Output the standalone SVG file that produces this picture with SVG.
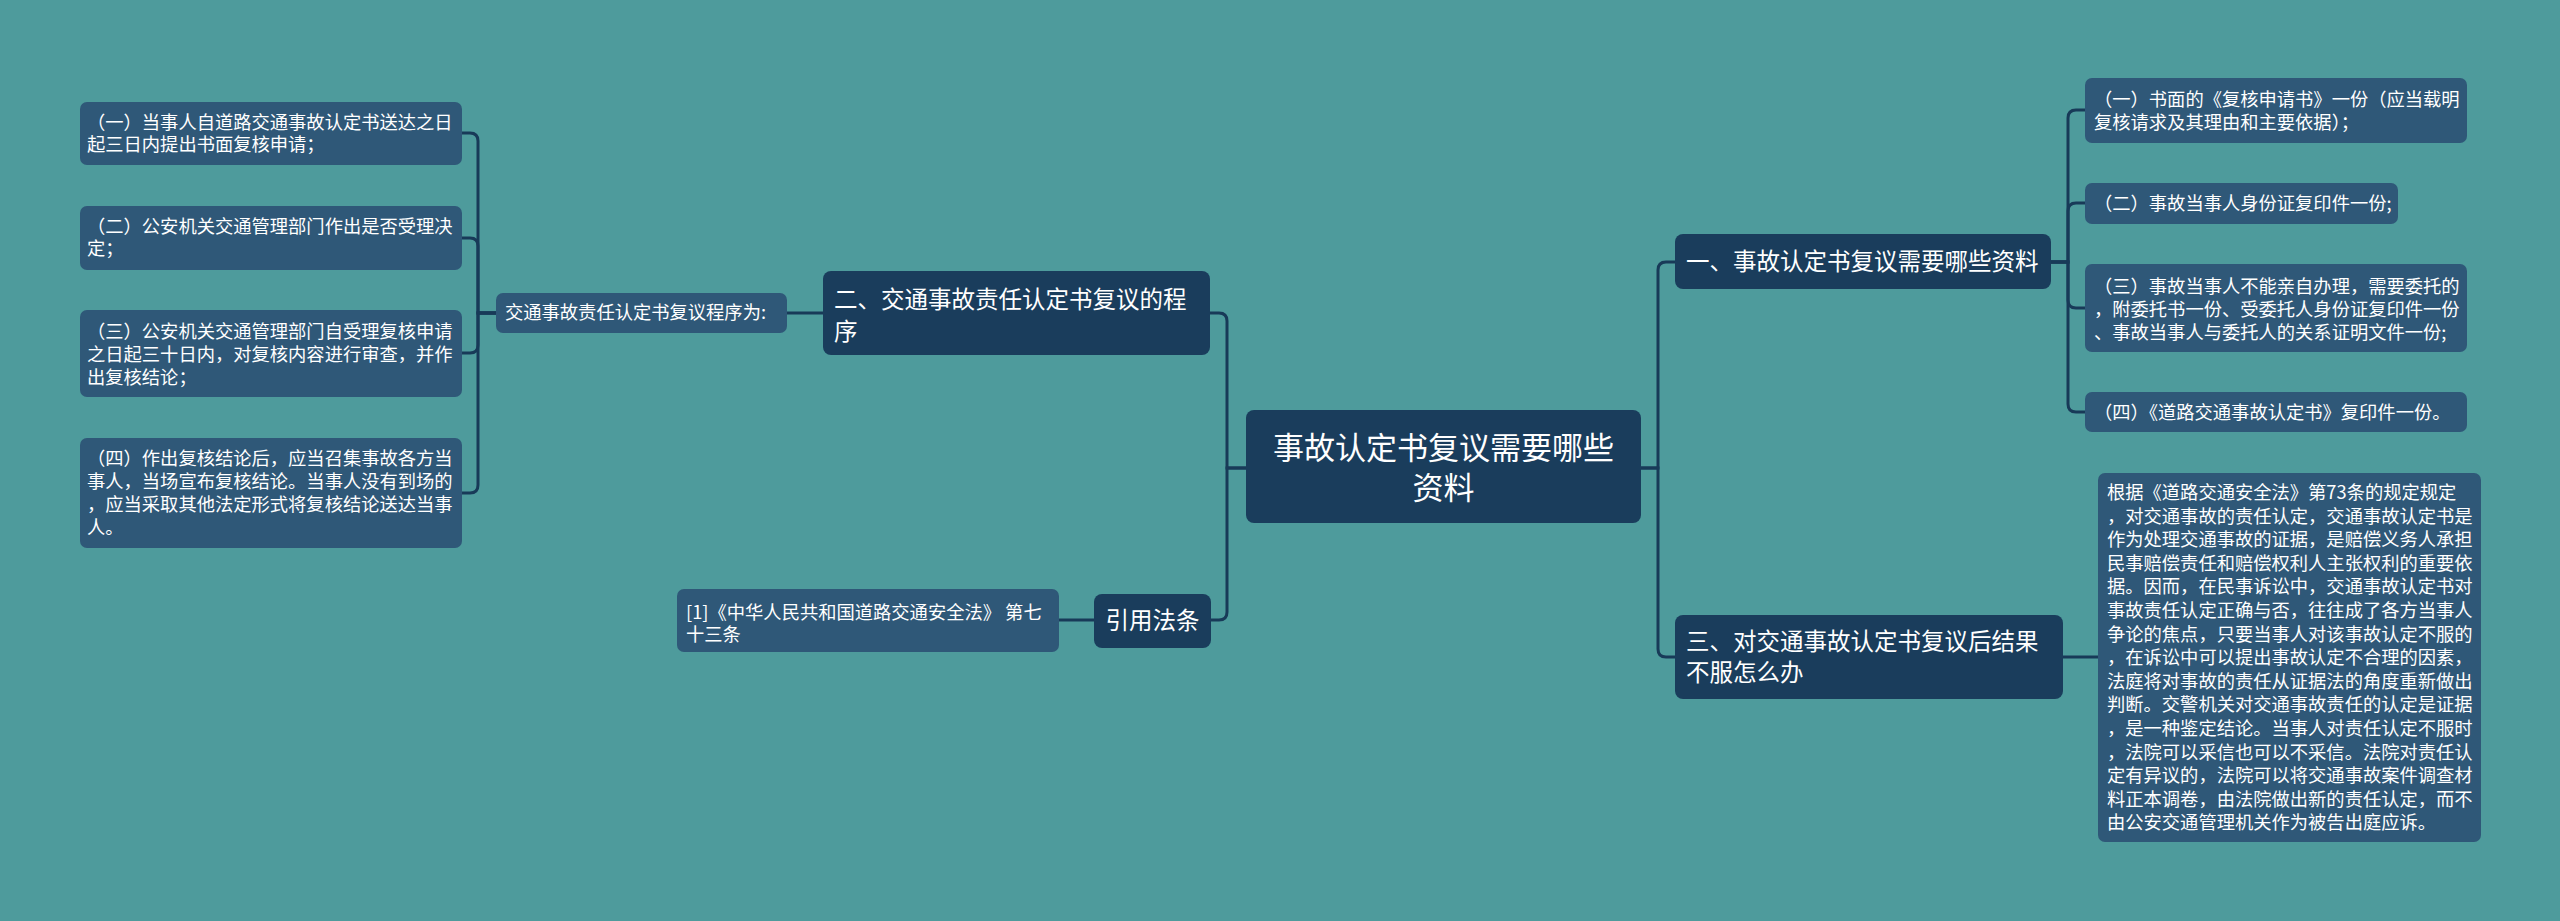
<svg xmlns="http://www.w3.org/2000/svg" width="2560" height="921" viewBox="0 0 2560 921">
<style>
.bg{fill:#4E9B9C}
.dark{fill:#1A3D5C}
.light{fill:#2F5878}
.conn path{fill:none;stroke:#183A58;stroke-width:3}
text{font-family:"Noto Sans CJK SC","Noto Sans",sans-serif;fill:#FFFFFF}
.s18{font-size:18.3px}
.s23{font-size:23.5px}
.s31{font-size:31px}
</style>
<rect class="bg" x="0" y="0" width="2560" height="921"/>
<g class="conn" id="connectors">
<path d="M1246,468 H1227 V321 Q1227,313 1219,313 H1210"/>
<path d="M1246,468 H1227 V612 Q1227,620 1219,620 H1210"/>
<path d="M823,313 H787"/>
<path d="M496,313 H478 V141 Q478,133 470,133 H462"/>
<path d="M496,313 H478 V246 Q478,238 470,238 H462"/>
<path d="M496,313 H478 V345 Q478,353 470,353 H462"/>
<path d="M496,313 H478 V485 Q478,493 470,493 H462"/>
<path d="M1094,620 H1059"/>
<path d="M1641,468 H1658 V270 Q1658,262 1666,262 H1675"/>
<path d="M1641,468 H1658 V649 Q1658,657 1666,657 H1675"/>
<path d="M2051,262 H2068 V118 Q2068,110 2076,110 H2085"/>
<path d="M2051,262 H2068 V211 Q2068,203 2076,203 H2085"/>
<path d="M2051,262 H2068 V300 Q2068,308 2076,308 H2085"/>
<path d="M2051,262 H2068 V404 Q2068,412 2076,412 H2085"/>
<path d="M2063,657 H2098"/>
</g>
<g id="center">
<rect class="dark" x="1246" y="410" width="395" height="113" rx="8"/>
<text class="s31" x="1443.5" y="459" text-anchor="middle">事故认定书复议需要哪些</text>
<text class="s31" x="1443.5" y="499" text-anchor="middle">资料</text>
</g>
<g id="n2">
<rect class="dark" x="823" y="271" width="387" height="84" rx="8"/>
<text class="s23" x="834" y="308">二、交通事故责任认定书复议的程</text>
<text class="s23" x="834" y="340">序</text>
</g>
<g id="n2a">
<rect class="light" x="496" y="293" width="291" height="40" rx="7"/>
<text class="s18" x="505" y="319">交通事故责任认定书复议程序为:</text>
</g>
<g id="n2a1">
<rect class="light" x="80" y="102" width="382" height="63" rx="7"/>
<text class="s18" x="87" y="129">（一）当事人自道路交通事故认定书送达之日</text>
<text class="s18" x="87" y="151">起三日内提出书面复核申请；</text>
</g>
<g id="n2a2">
<rect class="light" x="80" y="206" width="382" height="64" rx="7"/>
<text class="s18" x="87" y="233">（二）公安机关交通管理部门作出是否受理决</text>
<text class="s18" x="87" y="255">定；</text>
</g>
<g id="n2a3">
<rect class="light" x="80" y="310" width="382" height="87" rx="7"/>
<text class="s18" x="87" y="338">（三）公安机关交通管理部门自受理复核申请</text>
<text class="s18" x="87" y="361">之日起三十日内，对复核内容进行审查，并作</text>
<text class="s18" x="87" y="384">出复核结论；</text>
</g>
<g id="n2a4">
<rect class="light" x="80" y="438" width="382" height="110" rx="7"/>
<text class="s18" x="87" y="465">（四）作出复核结论后，应当召集事故各方当</text>
<text class="s18" x="87" y="488">事人，当场宣布复核结论。当事人没有到场的</text>
<text class="s18" x="87" y="511">，应当采取其他法定形式将复核结论送达当事</text>
<text class="s18" x="87" y="534">人。</text>
</g>
<g id="nlaw">
<rect class="dark" x="1094" y="594" width="117" height="54" rx="8"/>
<text class="s23" x="1152.5" y="629" text-anchor="middle">引用法条</text>
</g>
<g id="nlaw1">
<rect class="light" x="677" y="589" width="382" height="63" rx="7"/>
<text class="s18" x="686" y="619">[1]《中华人民共和国道路交通安全法》 第七</text>
<text class="s18" x="686" y="641">十三条</text>
</g>
<g id="n1">
<rect class="dark" x="1675" y="234" width="376" height="55" rx="8"/>
<text class="s23" x="1686" y="270">一、事故认定书复议需要哪些资料</text>
</g>
<g id="n1a">
<rect class="light" x="2085" y="78" width="382" height="65" rx="7"/>
<text class="s18" x="2094" y="106">（一）书面的《复核申请书》一份（应当载明</text>
<text class="s18" x="2094" y="129">复核请求及其理由和主要依据）；</text>
</g>
<g id="n1b">
<rect class="light" x="2085" y="183" width="313" height="41" rx="7"/>
<text class="s18" x="2094" y="210">（二）事故当事人身份证复印件一份;</text>
</g>
<g id="n1c">
<rect class="light" x="2085" y="264" width="382" height="88" rx="7"/>
<text class="s18" x="2094" y="293">（三）事故当事人不能亲自办理，需要委托的</text>
<text class="s18" x="2094" y="316">，附委托书一份、受委托人身份证复印件一份</text>
<text class="s18" x="2094" y="339">、事故当事人与委托人的关系证明文件一份;</text>
</g>
<g id="n1d">
<rect class="light" x="2085" y="392" width="382" height="40" rx="7"/>
<text class="s18" x="2094" y="419">（四）《道路交通事故认定书》复印件一份。</text>
</g>
<g id="n3">
<rect class="dark" x="1675" y="615" width="388" height="84" rx="8"/>
<text class="s23" x="1686" y="650">三、对交通事故认定书复议后结果</text>
<text class="s23" x="1686" y="681">不服怎么办</text>
</g>
<g id="n3a">
<rect class="light" x="2098" y="473" width="383" height="369" rx="7"/>
<text class="s18" x="2107" y="499">根据《道路交通安全法》第73条的规定规定</text>
<text class="s18" x="2107" y="522.6">，对交通事故的责任认定，交通事故认定书是</text>
<text class="s18" x="2107" y="546.2">作为处理交通事故的证据，是赔偿义务人承担</text>
<text class="s18" x="2107" y="569.8">民事赔偿责任和赔偿权利人主张权利的重要依</text>
<text class="s18" x="2107" y="593.4">据。因而，在民事诉讼中，交通事故认定书对</text>
<text class="s18" x="2107" y="617">事故责任认定正确与否，往往成了各方当事人</text>
<text class="s18" x="2107" y="640.6">争论的焦点，只要当事人对该事故认定不服的</text>
<text class="s18" x="2107" y="664.2">，在诉讼中可以提出事故认定不合理的因素，</text>
<text class="s18" x="2107" y="687.8">法庭将对事故的责任从证据法的角度重新做出</text>
<text class="s18" x="2107" y="711.4">判断。交警机关对交通事故责任的认定是证据</text>
<text class="s18" x="2107" y="735">，是一种鉴定结论。当事人对责任认定不服时</text>
<text class="s18" x="2107" y="758.6">，法院可以采信也可以不采信。法院对责任认</text>
<text class="s18" x="2107" y="782.2">定有异议的，法院可以将交通事故案件调查材</text>
<text class="s18" x="2107" y="805.8">料正本调卷，由法院做出新的责任认定，而不</text>
<text class="s18" x="2107" y="829.4">由公安交通管理机关作为被告出庭应诉。</text>
</g>
</svg>
